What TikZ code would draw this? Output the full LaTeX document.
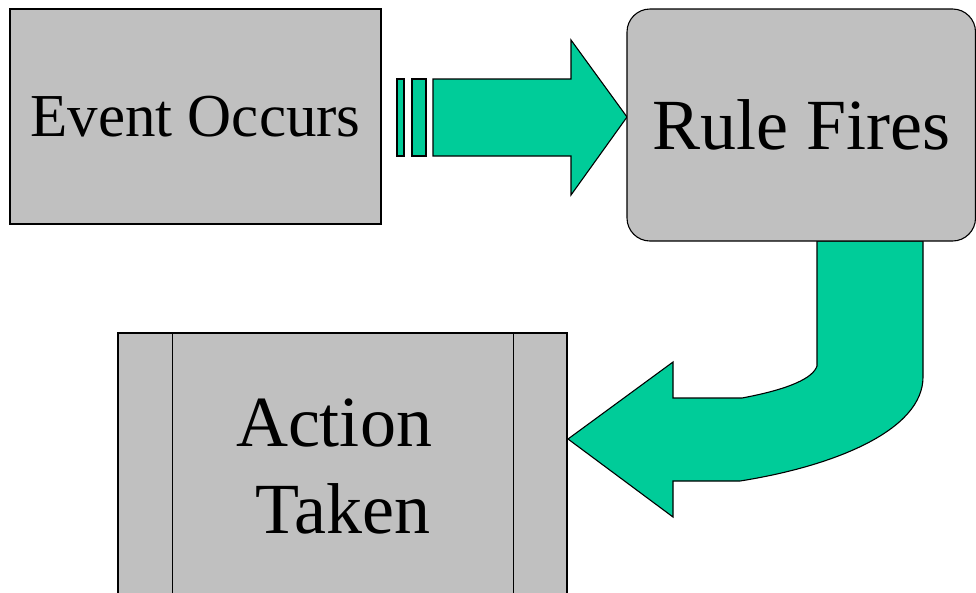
\documentclass[tikz,border=0pt]{standalone}
\usepackage{fontspec}
\setmainfont{Liberation Serif}
\definecolor{boxgray}{HTML}{C0C0C0}
\definecolor{arrowgreen}{HTML}{00CC99}
\begin{document}
\begin{tikzpicture}[x=1pt,y=-1pt,
  box/.style={draw=black, fill=boxgray, inner sep=0pt, line width=1.1pt},
  blockarrow/.style={draw=black, fill=arrowgreen, line width=1.1pt, line join=miter}]
\useasboundingbox (0,0) rectangle (976,592);
\clip (0,0) rectangle (976,592);
% block arrows
\draw[blockarrow] (397,79) rectangle (404,156);
\draw[blockarrow] (412,79) rectangle (426,156);
\draw[blockarrow] (433,79) -- (571,79) -- (571,40) -- (627,117) -- (571,195) -- (571,156) -- (433,156) -- cycle;
\draw[blockarrow] (817,241) -- (817,366) .. controls (813,378) and (790,389) .. (742,398) -- (673,398) -- (673,362) -- (568,439) -- (673,517) -- (673,481) -- (740,481) .. controls (835,466) and (923,430) .. (923,377) -- (923,241) -- cycle;
% boxes
\node[box, minimum width=371pt, minimum height=215pt, font=\fontsize{61}{70}\selectfont] (event) at (195.5,116.5) {Event Occurs};
\node[box, rounded corners=23pt, minimum width=348.5pt, minimum height=232pt, font=\fontsize{72}{80}\selectfont] (rule) at (801.25,125) {Rule Fires};
\node[box, minimum width=449pt, minimum height=314pt] (action) at (342.5,490) {};
\draw[line width=1.1pt] ([xshift=55pt]action.north west) -- ([xshift=55pt]action.south west);
\draw[line width=1.1pt] ([xshift=-54pt]action.north east) -- ([xshift=-54pt]action.south east);
\node[inner sep=0pt, align=center, font=\fontsize{72}{87}\selectfont] (actiontext) at (343,467) {Action\hspace*{18pt}\\Taken};
\end{tikzpicture}
\end{document}
